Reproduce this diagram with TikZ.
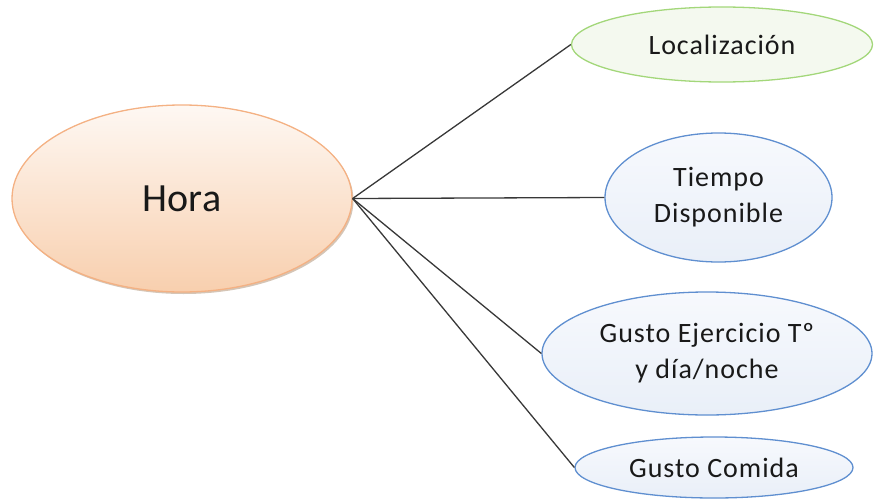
\documentclass[tikz,border=0pt]{standalone}
\usepackage{fontspec}
\setmainfont{Carlito}
\newfontfamily\bubblefont[LetterSpace=3.5]{Carlito}
\usetikzlibrary{shapes.geometric,shadows}

\definecolor{peachtop}{HTML}{FEF8F3}
\definecolor{peachbot}{HTML}{F8CFAE}
\definecolor{peachline}{HTML}{F4B183}
\definecolor{greenfill}{HTML}{F4F9EF}
\definecolor{greenline}{HTML}{A3D77A}
\definecolor{bluetop}{HTML}{F7F9FD}
\definecolor{bluebot}{HTML}{E9EFF8}
\definecolor{blueline}{HTML}{5F8FD0}
\definecolor{linkgray}{HTML}{383838}

\tikzset{
  bubble/.style={ellipse, inner sep=0pt, line width=1.3pt, align=center,
    font=\bubblefont\fontsize{28}{36}\selectfont, text=black!90},
  mainbubble/.style={bubble, draw=peachline, top color=peachtop, bottom color=peachbot,
    drop shadow={shadow xshift=1.5pt, shadow yshift=-2pt, opacity=0.35, fill=brown!70!black},
    font=\fontsize{40}{46}\selectfont},
  greenbubble/.style={bubble, draw=greenline, fill=greenfill},
  bluebubble/.style={bubble, draw=blueline, top color=bluetop, bottom color=bluebot},
  link/.style={draw=linkgray, line width=1.3pt}
}

\begin{document}
\begin{tikzpicture}[x=1pt, y=-1pt]
  \useasboundingbox (0,0) rectangle (874,503);

  % central topic
  \node[mainbubble, minimum width=340pt, minimum height=187pt] (hora) at (182,198.5) {Hora};

  % related topics
  \node[greenbubble, minimum width=301pt, minimum height=75pt] (loc) at (722,44.5) {Localización};
  \node[bluebubble, minimum width=227pt, minimum height=129pt] (tiempo) at (718.5,197.5) {Tiempo\\Disponible};
  \node[bluebubble, minimum width=330pt, minimum height=123pt] (ejer) at (707,353.5) {Gusto Ejercicio Tº\\y día/noche};
  \node[bluebubble, minimum width=278pt, minimum height=61pt] (comida) at (714,467.5) {Gusto Comida};

  % connectors from the central topic
  \coordinate (hub) at (hora.east);
  \draw[link] (hub) -- (loc.west);
  \draw[link] (hub) -- (tiempo.west);
  \draw[link] (hub) -- (ejer.west);
  \draw[link] (hub) -- (comida.west);
\end{tikzpicture}
\end{document}
